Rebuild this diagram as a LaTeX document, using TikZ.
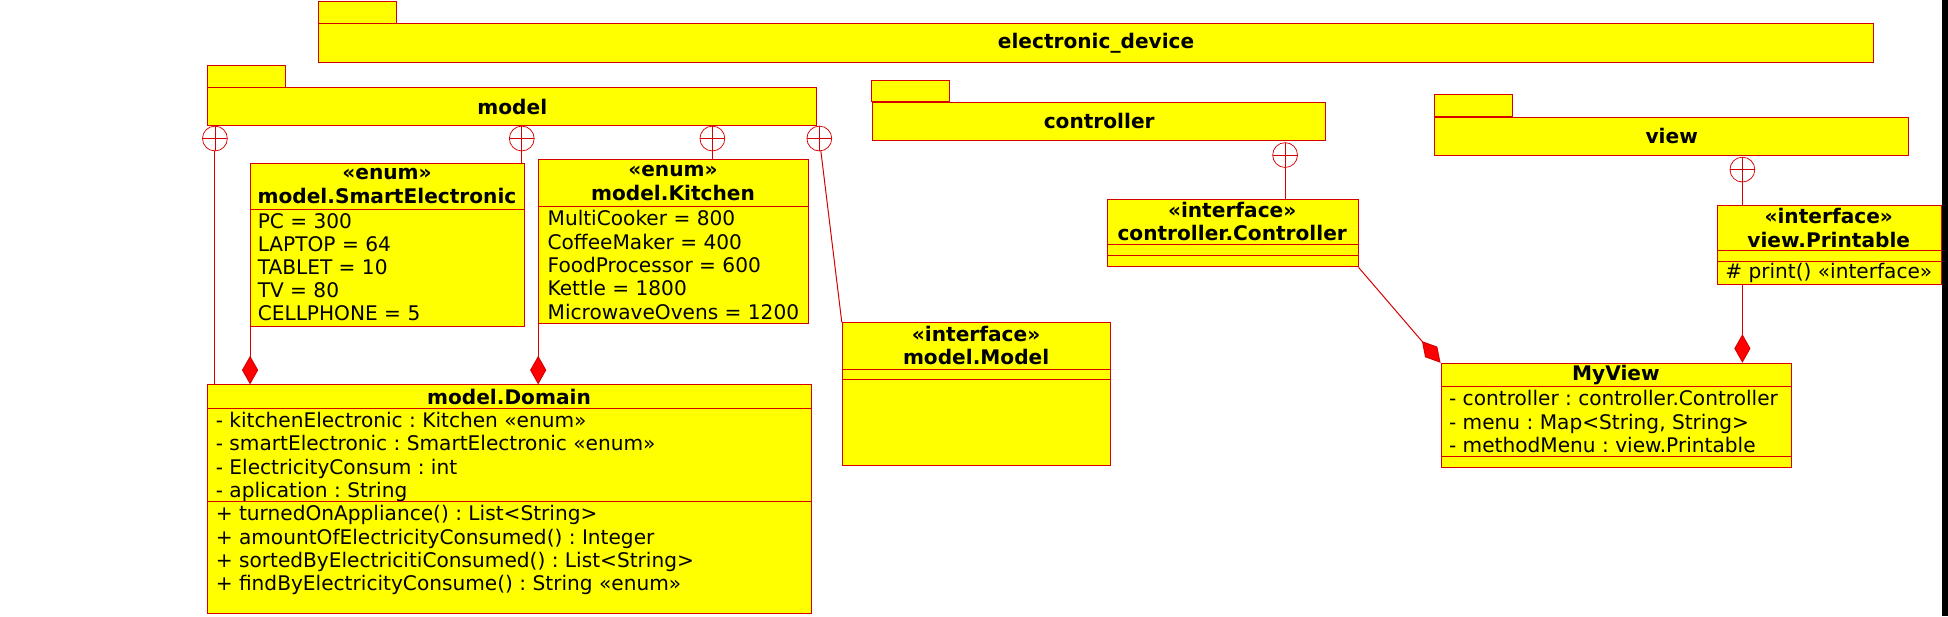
\documentclass[tikz,border=0pt]{standalone}
\usepackage{fontspec}
\setmainfont{DejaVu Sans}
\usetikzlibrary{arrows.meta}
\definecolor{umlred}{RGB}{215,0,0}
\definecolor{umlyellow}{RGB}{255,255,0}

\begin{document}
\fontsize{16.2}{18.8}\selectfont\frenchspacing
\begin{tikzpicture}[x=1pt,y=-1pt,
    box/.style={draw=umlred,fill=umlyellow,line width=0.8pt,anchor=north west,inner sep=0pt},
    pkg/.style={box,font=\bfseries},
    hd/.style={font=\bfseries,align=center,inner sep=0pt},
    txt/.style={anchor=base west,inner sep=0pt},
    link/.style={draw=umlred,line width=0.8pt},
    comp/.style={link,-{Diamond[length=23pt,width=13pt,fill=red]}},
    nest/.style={circle,draw=umlred,line width=0.6pt,minimum size=20pt,inner sep=0pt,
      path picture={\draw[umlred,line width=0.6pt]
        (path picture bounding box.north) -- (path picture bounding box.south)
        (path picture bounding box.west) -- (path picture bounding box.east);}}]
  \useasboundingbox (0,0) rectangle (1568,496);

  \node[pkg,minimum width=1251.3pt,minimum height=31.4pt] (pk-dev) at (256.2,18.8) {electronic\_device};
  \draw[box] (pk-dev.north west) rectangle ++(63.1,-17.4);
  \node[pkg,minimum width=489.9pt,minimum height=30.6pt] (pk-model) at (167,70.3) {model};
  \draw[box] (pk-model.north west) rectangle ++(62.7,-17.4);
  \node[pkg,minimum width=365.1pt,minimum height=30.9pt] (pk-ctl) at (701.8,81.8) {controller};
  \draw[box] (pk-ctl.north west) rectangle ++(62.3,-16.8);
  \node[pkg,minimum width=381.2pt,minimum height=31.1pt] (pk-view) at (1154.6,93.9) {view};
  \draw[box] (pk-view.north west) rectangle ++(63,-18);

  \node[nest] (n-dom) at (173,111.5) {};
  \node[nest] (n-se) at (420,111.5) {};
  \node[nest] (n-kit) at (573.4,111.5) {};
  \node[nest] (n-mod) at (659.5,111.5) {};
  \node[nest] (n-ctl) at (1034.4,124.8) {};
  \node[nest] (n-pr) at (1402.5,136.5) {};

  \node[box,minimum width=220.3pt,minimum height=131.4pt] (se) at (201.3,131) {};
  \draw[link] ([yshift=-37.6pt]se.north west) -- ([yshift=-37.6pt]se.north east);
  \node[hd] (se-h) at (311.5,149.6) {«enum»\\model.SmartElectronic};
  \foreach \t [count=\i from 0] in {PC = 300, LAPTOP = 64, TABLET = 10, TV = 80, CELLPHONE = 5}
    \node[txt] (se-\i) at (207.3,183.6+18.65*\i) {\t};

  \node[box,minimum width=217pt,minimum height=132pt] (kit) at (433.2,128.3) {};
  \draw[link] ([yshift=-38.1pt]kit.north west) -- ([yshift=-38.1pt]kit.north east);
  \node[hd] (kit-h) at (541.7,147.4) {«enum»\\model.Kitchen};
  \foreach \t [count=\i from 0] in {MultiCooker = 800, CoffeeMaker = 400, FoodProcessor = 600, Kettle = 1800, MicrowaveOvens = 1200}
    \node[txt] (kit-\i) at (440.6,181.7+18.8*\i) {\t};

  \node[box,minimum width=485.5pt,minimum height=184.3pt] (dom) at (167,309.4) {};
  \draw[link] ([yshift=-19.8pt]dom.north west) -- ([yshift=-19.8pt]dom.north east);
  \draw[link] ([yshift=-94.4pt]dom.north west) -- ([yshift=-94.4pt]dom.north east);
  \node[hd] (dom-h) at (409.7,319.2) {model.Domain};
  \foreach \t [count=\i from 0] in {- kitchenElectronic : Kitchen «enum»,
      - smartElectronic : SmartElectronic «enum», - ElectricityConsum : int, - aplication : String,
      + turnedOnAppliance() : List<String>, + amountOfElectricityConsumed() : Integer,
      + sortedByElectricitiConsumed() : List<String>, + findByElectricityConsume() : String «enum»}
    \node[txt] (dom-\i) at (173.5,344+18.8*\i) {\t};

  \node[box,minimum width=216.2pt,minimum height=114.8pt] (mod) at (677.6,259.5) {};
  \draw[link] ([yshift=-37.8pt]mod.north west) -- ([yshift=-37.8pt]mod.north east);
  \draw[link] ([yshift=-45.8pt]mod.north west) -- ([yshift=-45.8pt]mod.north east);
  \node[hd] (mod-h) at (785.7,278.3) {«interface»\\model.Model};

  \node[box,minimum width=201.8pt,minimum height=54.5pt] (ctl) at (890.9,159.9) {};
  \draw[link] ([yshift=-36.8pt]ctl.north west) -- ([yshift=-36.8pt]ctl.north east);
  \draw[link] ([yshift=-45.6pt]ctl.north west) -- ([yshift=-45.6pt]ctl.north east);
  \node[hd] (ctl-h) at (991.8,178.4) {«interface»\\controller.Controller};

  \node[box,minimum width=179.9pt,minimum height=64.1pt] (pr) at (1382.1,164.8) {};
  \draw[link] ([yshift=-37pt]pr.north west) -- ([yshift=-37pt]pr.north east);
  \draw[link] ([yshift=-45.8pt]pr.north west) -- ([yshift=-45.8pt]pr.north east);
  \node[hd] (pr-h) at (1472,183.5) {«interface»\\view.Printable};
  \node[txt] (pr-0) at (1388.5,224.5) {\# print() «interface»};

  \node[box,minimum width=282.4pt,minimum height=84.2pt] (myv) at (1159.5,292) {};
  \draw[link] ([yshift=-19.3pt]myv.north west) -- ([yshift=-19.3pt]myv.north east);
  \draw[link] ([yshift=-75.6pt]myv.north west) -- ([yshift=-75.6pt]myv.north east);
  \node[hd] (myv-h) at (1300.7,302.2) {MyView};
  \foreach \t [count=\i from 0] in {- controller : controller.Controller, {- menu : Map<String, String>}, - methodMenu : view.Printable}
    \node[txt] (myv-\i) at (1166.2,326.6+18.8*\i) {\t};

  \draw[link] (n-dom) -- (n-dom |- dom.north);
  \draw[link] (n-se) -- (n-se |- se.north);
  \draw[link] (n-kit) -- (n-kit |- kit.north);
  \draw[link] (n-mod) -- (mod.north west);
  \draw[link] (n-ctl) -- (n-ctl |- ctl.north);
  \draw[link] (n-pr) -- (n-pr |- pr.north);

  \draw[comp] (se.south west) -- (se.south west |- dom.north);
  \draw[comp] (kit.south west) -- (kit.south west |- dom.north);
  \draw[comp] (ctl.south east) -- (myv.north west);
  \draw[comp] (n-pr |- pr.south) -- (n-pr |- myv.north);

  \fill[black] (1563.3,0) rectangle (1568,496);
\end{tikzpicture}
\end{document}
